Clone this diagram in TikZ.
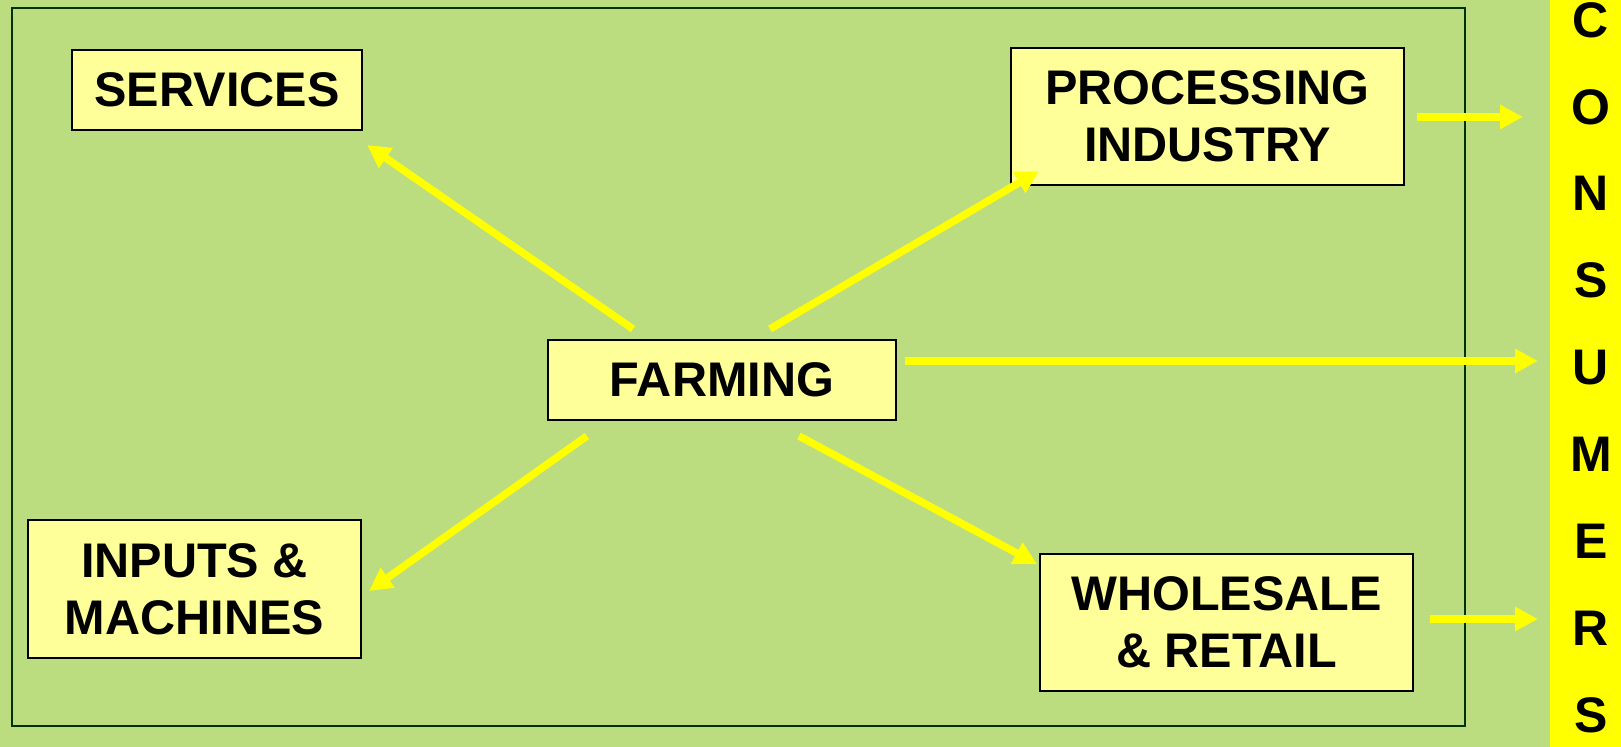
\documentclass[tikz,border=0pt]{standalone}
\usepackage{fontspec}
\setmainfont{Liberation Sans}
\usetikzlibrary{arrows.meta}
\definecolor{bggreen}{RGB}{188,220,128}
\definecolor{framegreen}{RGB}{0,51,0}
\definecolor{boxyellow}{RGB}{255,255,153}
\definecolor{barYellow}{RGB}{255,255,0}

\begin{document}
\begin{tikzpicture}[x=0.5pt,y=-0.5pt,
        sector/.style={draw=black,fill=boxyellow,line width=1.25pt,inner sep=0pt,align=center,
            font=\fontsize{24.3}{28.3}\selectfont\bfseries},
        flow/.style={draw=barYellow,line width=3.75pt,-{Triangle[length=11.5pt,width=11.5pt]}},
        letter/.style={font=\fontsize{25}{29}\selectfont\bfseries}]
        \fill[bggreen] (0,0) rectangle (1621,747);
        \useasboundingbox (0,0) rectangle (1621,747);
        \draw[framegreen,line width=1pt] (12,8) rectangle (1465,726);
        \fill[barYellow] (1550,0) rectangle (1621,747);
        \foreach \ch [count=\i] in {C,O,N,S,U,M,E,R,S}
            \node[letter](c\i) at (1591,{20+86.9*(\i-1)}) {\ch};
        \node[sector,minimum width=145pt,minimum height=40pt](services) at (217,90) {SERVICES};
        \node[sector,minimum width=196.5pt,minimum height=68.5pt](processing) at (1207.5,116.5) {PROCESSING\\INDUSTRY};
        \node[sector,minimum width=174pt,minimum height=40pt](farming) at (722,380) {FARMING};
        \node[sector,minimum width=166.5pt,minimum height=69pt](inputs) at (194.5,589) {INPUTS \&\\MACHINES};
        \node[sector,minimum width=186.5pt,minimum height=68.5pt](wholesale) at (1226.5,622.5) {WHOLESALE\\\& RETAIL};
        \coordinate(fs) at (633,329);
        \coordinate(st) at (367,145);
        \coordinate(fp) at (770,329);
        \coordinate(pt) at (1039,171);
        \coordinate(fc) at (905,361);
        \coordinate(ct) at (1538,361);
        \coordinate(fi) at (587,436);
        \coordinate(it) at (369,591);
        \coordinate(fw) at (799,436);
        \coordinate(wt) at (1037,564);
        \coordinate(ps) at (1417,117);
        \coordinate(pc) at (1523,117);
        \coordinate(ws) at (1430,619);
        \coordinate(wc) at (1538,619);
        \draw[flow](fs)--(st);
        \draw[flow](fp)--(pt);
        \draw[flow](fc)--(ct);
        \draw[flow](fi)--(it);
        \draw[flow](fw)--(wt);
        \draw[flow](ps)--(pc);
        \draw[flow](ws)--(wc);
        \end{tikzpicture}
\end{document}
